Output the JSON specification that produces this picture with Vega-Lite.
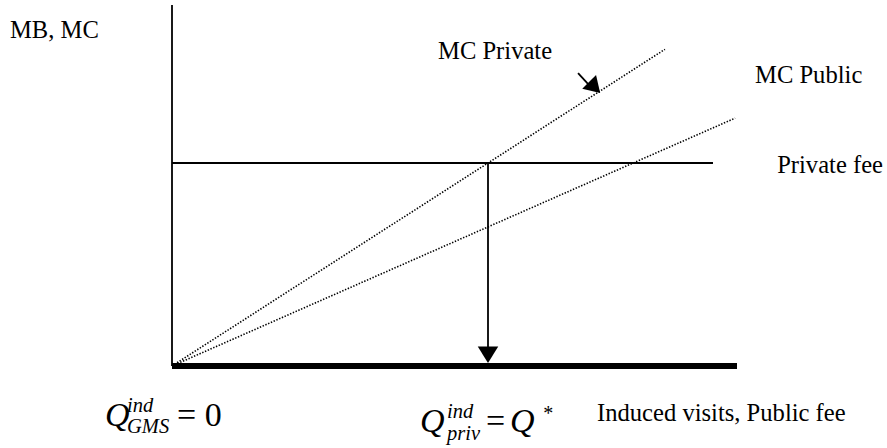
{
  "$schema": "https://vega.github.io/schema/vega-lite/v6.json",
  "width": 887,
  "height": 448,
  "autosize": {"type": "fit", "contains": "padding"},
  "padding": 0,
  "background": "white",
  "config": {"view": {"stroke": null}},
  "encoding": {
    "x": {"field": "x", "type": "quantitative", "axis": null, "scale": {"domain": [-5.443, 22.6266], "nice": false, "zero": false}},
    "y": {"field": "y", "type": "quantitative", "axis": null, "scale": {"domain": [-4.0394, 18.0296], "nice": false, "zero": false}}
  },
  "layer": [
    {
      "data": {"values": [
        {"name": "MC Private", "x": 0, "y": 0, "x2": 15.6, "y2": 15.6},
        {"name": "MC Public", "x": 0, "y": 0, "x2": 17.82, "y2": 12.21}
      ]},
      "mark": {"type": "rule", "color": "black", "strokeWidth": 1.6, "strokeDash": [1.4, 1.6]},
      "encoding": {"x2": {"field": "x2"}, "y2": {"field": "y2"}}
    },
    {
      "data": {"values": [
        {"name": "vertical axis", "x": 0, "y": 0, "x2": 0, "y2": 17.78},
        {"name": "Private fee", "x": 0, "y": 10, "x2": 17.12, "y2": 10},
        {"name": "Q* drop", "x": 10, "y": 10, "x2": 10, "y2": 0.8},
        {"name": "pointer", "x": 12.85, "y": 14.43, "x2": 13.2, "y2": 13.84}
      ]},
      "mark": {"type": "rule", "color": "black", "strokeWidth": 1.8},
      "encoding": {"x2": {"field": "x2"}, "y2": {"field": "y2"}}
    },
    {
      "data": {"values": [
        {"name": "Public fee", "x": 0, "y": 0, "x2": 17.88, "y2": 0}
      ]},
      "mark": {"type": "rule", "color": "black", "strokeWidth": 6},
      "encoding": {"x2": {"field": "x2"}, "y2": {"field": "y2"}}
    },
    {
      "data": {"values": [{"name": "drop head", "x": 10, "y": 0.15}]},
      "mark": {"type": "point", "shape": "M0,0L-1,-1.6L1,-1.6Z", "size": 420, "filled": true, "color": "black", "opacity": 1, "strokeWidth": 0}
    },
    {
      "data": {"values": [{"name": "pointer head", "x": 13.55, "y": 13.45}]},
      "mark": {"type": "point", "shape": "M0,0L-1,-1.6L1,-1.6Z", "size": 380, "angle": 315, "filled": true, "color": "black", "opacity": 1, "strokeWidth": 0}
    },
    {
      "data": {"values": [
        {"label": "MB, MC", "x": -5.127, "y": 16.16},
        {"label": "MC Private", "x": 8.418, "y": 15.12},
        {"label": "MC Public", "x": 18.45, "y": 13.94},
        {"label": "Private fee", "x": 19.15, "y": 9.51},
        {"label": "Induced visits, Public fee", "x": 13.45, "y": -2.71}
      ]},
      "mark": {"type": "text", "font": "Times New Roman, Liberation Serif, serif", "fontSize": 24.6, "align": "left", "baseline": "alphabetic", "color": "black"},
      "encoding": {"text": {"field": "label"}}
    },
    {
      "data": {"values": [
        {"label": "Q", "x": -2.12, "y": -2.956},
        {"label": "Q", "x": 7.848, "y": -3.251},
        {"label": "Q", "x": 10.696, "y": -3.251}
      ]},
      "mark": {"type": "text", "font": "Times New Roman, Liberation Serif, serif", "fontStyle": "italic", "fontSize": 34, "align": "left", "baseline": "alphabetic", "color": "black"},
      "encoding": {"text": {"field": "label"}}
    },
    {
      "data": {"values": [
        {"label": "ind", "x": -1.424, "y": -2.266},
        {"label": "GMS", "x": -1.424, "y": -3.3},
        {"label": "ind", "x": 8.703, "y": -2.562},
        {"label": "priv", "x": 8.703, "y": -3.645}
      ]},
      "mark": {"type": "text", "font": "Times New Roman, Liberation Serif, serif", "fontStyle": "italic", "fontSize": 20.5, "align": "left", "baseline": "alphabetic", "color": "black"},
      "encoding": {"text": {"field": "label"}}
    },
    {
      "data": {"values": [
        {"label": "= 0", "x": 0.158, "y": -2.956},
        {"label": "=", "x": 9.937, "y": -3.251}
      ]},
      "mark": {"type": "text", "font": "Times New Roman, Liberation Serif, serif", "fontSize": 34, "align": "left", "baseline": "alphabetic", "color": "black"},
      "encoding": {"text": {"field": "label"}}
    },
    {
      "data": {"values": [
        {"label": "*", "x": 11.75, "y": -2.66}
      ]},
      "mark": {"type": "text", "font": "Times New Roman, Liberation Serif, serif", "fontSize": 20, "align": "left", "baseline": "alphabetic", "color": "black"},
      "encoding": {"text": {"field": "label"}}
    }
  ]
}
